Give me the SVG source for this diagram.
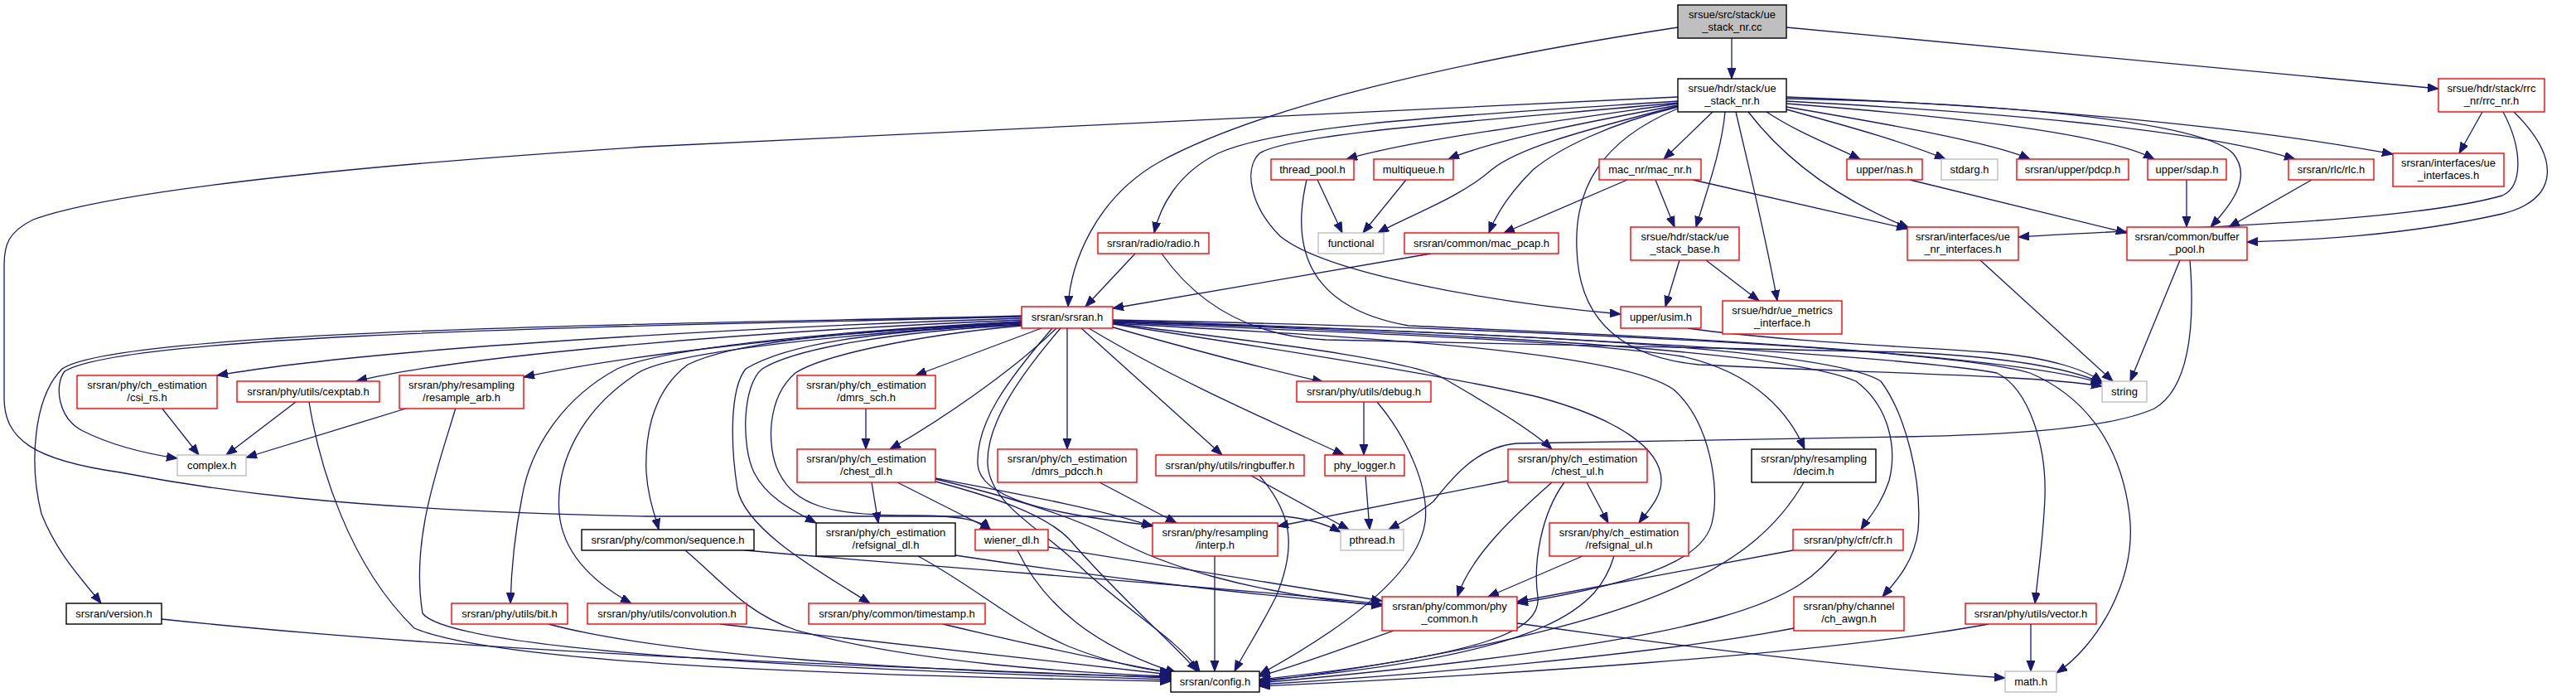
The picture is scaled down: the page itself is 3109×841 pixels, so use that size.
<svg xmlns="http://www.w3.org/2000/svg" width="3109" height="841" viewBox="0 0 3109 841">
<style>
rect{fill:#fff;stroke-width:1.4}
.r rect{stroke:#ff0000}
.g rect{stroke:#bfbfbf}
.k rect{stroke:#000}
text{font-family:"Liberation Sans",Arial,sans-serif;font-size:13px;text-anchor:middle;fill:#000}
#edges path{fill:none;stroke:#191970;stroke-width:1.3;marker-end:url(#a)}
</style>
<defs>
<marker id="a" markerUnits="userSpaceOnUse" markerWidth="14" markerHeight="11" refX="13" refY="5" orient="auto"><path d="M0,0 L13,5 L0,10 z" fill="#191970" stroke="#191970" stroke-width="1"/></marker>
</defs>
<rect x="0" y="0" width="3109" height="841" style="fill:#fff;stroke:none"/>
<g id="edges">
<path d="M2090,46 L2090,95"/>
<path d="M2156,33 L2943,107"/>
<path d="M2025,33 C1750,75 1520,130 1400,195 C1320,240 1292,320 1289,370"/>
<path d="M2025,117 L780,177 C500,195 150,225 40,265 C10,280 5,295 5,320 L5,480 C5,530 40,555 145,570 C250,590 400,615 780,623 L1550,623 C1580,626 1600,632 1618,642"/>
<path d="M2025,122 C1750,140 1550,150 1470,185 C1420,210 1400,250 1393,281"/>
<path d="M2025,125 C1850,150 1700,170 1625,192"/>
<path d="M2025,127 C1900,150 1800,170 1748,192"/>
<path d="M2025,128 C1900,160 1830,180 1800,205 C1760,240 1700,260 1663,281"/>
<path d="M2025,129 C1940,150 1880,180 1850,205 C1820,235 1805,260 1797,281"/>
<path d="M2025,124 C1800,145 1560,160 1520,185 C1500,205 1510,250 1545,285 C1600,330 1800,365 1956,379"/>
<path d="M2025,131 C1930,170 1900,230 1903,300 C1905,380 1950,430 2050,440 C2250,450 2450,452 2537,466"/>
<path d="M2156,132 C2240,155 2300,172 2348,192"/>
<path d="M2156,129 C2250,145 2400,170 2450,192"/>
<path d="M2156,125 C2350,140 2540,160 2600,192"/>
<path d="M2156,122 C2400,135 2650,155 2770,192"/>
<path d="M2156,119 C2450,125 2660,150 2695,185 C2720,215 2690,250 2668,274"/>
<path d="M2156,117 C2500,130 2750,160 2888,186"/>
<path d="M2132,135 C2170,160 2210,175 2245,192"/>
<path d="M2110,135 C2160,200 2230,245 2304,275"/>
<path d="M2095,135 C2110,200 2130,280 2145,363"/>
<path d="M2082,135 C2078,180 2060,230 2047,274"/>
<path d="M2067,135 L2008,192"/>
<path d="M2996,135 L2968,185"/>
<path d="M3021,135 C3045,180 3045,225 3020,236 C2900,270 2600,275 2436,286"/>
<path d="M3034,135 C3090,190 3090,240 3020,258 C2900,285 2780,290 2712,292"/>
<path d="M1590,217 L1620,281"/>
<path d="M1577,217 C1560,290 1570,370 1700,393 C1850,400 2000,405 2200,420 C2400,435 2500,450 2537,463"/>
<path d="M1697,217 L1645,281"/>
<path d="M1964,217 L1815,281"/>
<path d="M1998,217 L2021,274"/>
<path d="M2043,217 L2302,276"/>
<path d="M2305,217 L2567,281"/>
<path d="M2639,217 L2639,274"/>
<path d="M2790,217 L2690,274"/>
<path d="M1370,306 L1310,370"/>
<path d="M1402,306 C1440,360 1500,405 1600,410 L2300,425 C2450,432 2510,450 2537,462"/>
<path d="M1727,306 L1343,372"/>
<path d="M2027,314 L2010,370"/>
<path d="M2059,314 L2123,363"/>
<path d="M2390,314 L2550,460"/>
<path d="M2631,314 L2571,460"/>
<path d="M2643,314 C2650,400 2640,470 2600,493 C2540,520 2400,525 2300,527 L1830,535 C1780,540 1750,580 1730,605 C1712,620 1692,630 1676,639"/>
<path d="M2037,396 C2150,412 2300,418 2400,425 C2480,432 2520,448 2537,461"/>
<path d="M1233,381 C900,390 150,395 75,445 C40,480 35,560 50,620 C70,670 100,700 122,728"/>
<path d="M1233,382 C900,392 160,398 78,448 C65,465 70,505 100,520 C140,540 180,548 214,553"/>
<path d="M1233,384 C900,395 450,420 262,453"/>
<path d="M1233,386 C900,400 550,430 430,460"/>
<path d="M1233,388 C950,405 750,430 632,455"/>
<path d="M1233,388 C1000,400 800,420 745,445 C680,480 640,540 630,600 C620,650 617,690 616,728"/>
<path d="M1233,389 C1000,405 810,425 770,450 C700,495 670,560 675,620 C680,670 720,705 762,728"/>
<path d="M1233,390 C1000,400 880,415 830,440 C790,470 778,520 780,570 C782,600 790,620 795,639"/>
<path d="M1233,391 C1050,400 950,415 900,445 C880,470 882,540 890,590 C900,640 990,690 1050,728"/>
<path d="M1233,392 C1080,400 960,420 920,445 C895,465 895,540 910,570 C925,600 955,615 985,631"/>
<path d="M1233,393 C1100,405 990,430 960,450 C925,480 925,540 940,570 C960,610 1000,622 1100,622 C1160,622 1185,628 1195,639"/>
<path d="M1257,396 L1105,453"/>
<path d="M1275,396 C1220,450 1130,510 1074,542"/>
<path d="M1270,396 C1215,460 1178,510 1180,560 C1182,600 1260,620 1392,634"/>
<path d="M1280,396 C1225,460 1190,515 1192,560 C1195,610 1260,640 1300,680 C1350,730 1420,770 1448,810"/>
<path d="M1288,396 L1288,542"/>
<path d="M1305,396 L1475,549"/>
<path d="M1314,396 C1420,460 1560,520 1622,549"/>
<path d="M1340,394 C1450,425 1540,448 1597,461"/>
<path d="M1343,390 C1450,405 1700,430 1745,458 C1800,490 1850,520 1873,542"/>
<path d="M1343,391 C1500,415 1760,455 1860,480 C1950,505 2005,540 2005,580 C2005,600 1990,615 1978,631"/>
<path d="M1343,389 C1600,400 1900,410 2030,430 C2120,450 2160,500 2178,542"/>
<path d="M1343,390 C1600,405 1950,420 2020,470 C2065,510 2075,590 2067,627 C2060,670 2000,700 1831,728"/>
<path d="M1343,388 C1700,400 2150,420 2240,460 C2280,490 2290,540 2280,580 C2270,610 2255,625 2246,639"/>
<path d="M1343,388 C1700,398 2200,415 2270,460 C2300,500 2320,580 2315,640 C2310,680 2285,705 2272,720"/>
<path d="M1343,387 C1800,400 2300,430 2410,450 C2450,470 2470,540 2468,600 C2466,650 2460,690 2456,728"/>
<path d="M1343,386 C1800,395 2350,420 2450,450 C2520,480 2560,540 2570,620 C2580,700 2530,780 2482,812"/>
<path d="M195,492 L240,549"/>
<path d="M357,485 L273,549"/>
<path d="M373,485 C385,560 420,680 500,758 C600,800 1000,815 1413,822"/>
<path d="M493,492 L297,552"/>
<path d="M550,492 C530,560 495,650 510,740 C540,780 900,805 1413,820"/>
<path d="M195,747 C600,790 1100,805 1413,818"/>
<path d="M662,753 C800,790 1100,810 1413,817"/>
<path d="M869,753 L1413,814"/>
<path d="M1138,753 C1250,780 1350,800 1413,812"/>
<path d="M899,664 C1200,690 1500,710 1668,729"/>
<path d="M827,664 C870,700 900,740 960,760 C1100,800 1300,812 1413,816"/>
<path d="M1045,492 L1045,542"/>
<path d="M1052,582 L1060,631"/>
<path d="M1083,582 L1196,639"/>
<path d="M1129,577 C1250,600 1330,615 1391,635"/>
<path d="M1129,578 C1220,600 1300,625 1345,650 C1400,680 1500,715 1668,731"/>
<path d="M1129,581 C1200,600 1260,620 1290,650 C1350,720 1420,780 1445,810"/>
<path d="M1327,582 L1420,631"/>
<path d="M1510,574 L1628,639"/>
<path d="M1520,574 C1560,620 1565,660 1540,720 C1520,760 1500,790 1490,810"/>
<path d="M1646,485 L1646,549"/>
<path d="M1662,485 C1700,530 1725,590 1720,630 C1710,700 1600,770 1520,814"/>
<path d="M1648,574 L1653,639"/>
<path d="M1820,580 L1542,635"/>
<path d="M1915,582 L1941,631"/>
<path d="M1873,582 C1830,620 1775,670 1759,720"/>
<path d="M1888,582 C1860,620 1850,680 1856,720 C1860,760 1800,790 1520,820"/>
<path d="M1910,671 L1796,720"/>
<path d="M1948,671 C1930,730 1880,790 1520,821"/>
<path d="M2177,582 C2120,680 2000,760 1520,823"/>
<path d="M2164,664 L1831,726"/>
<path d="M2217,664 C2170,720 2120,770 1520,824"/>
<path d="M2165,758 C2000,790 1700,815 1520,826"/>
<path d="M2400,753 C2200,790 1800,815 1520,828"/>
<path d="M2451,753 L2451,810"/>
<path d="M1682,761 C1600,790 1560,805 1520,816"/>
<path d="M1831,752 C2100,790 2300,810 2420,818"/>
<path d="M1153,670 C1350,700 1550,722 1668,730"/>
<path d="M1108,671 C1180,710 1220,750 1290,780 C1340,800 1380,808 1413,811"/>
<path d="M1265,660 C1450,690 1600,715 1668,725"/>
<path d="M1228,664 C1260,730 1320,780 1420,812"/>
<path d="M1466,671 L1466,810"/>
</g>
<g id="n_root" class="k"><rect x="2025" y="6" width="131" height="40" style="fill:#bfbfbf"/><text x="2090.5" y="22">srsue/src/stack/ue</text><text x="2090.5" y="37">_stack_nr.cc</text></g>
<g id="n_ue_stack_nr_h" class="k"><rect x="2025" y="95" width="131" height="40"/><text x="2090.5" y="111">srsue/hdr/stack/ue</text><text x="2090.5" y="126">_stack_nr.h</text></g>
<g id="n_rrc_nr" class="r"><rect x="2943" y="95" width="128" height="40"/><text x="3007" y="111">srsue/hdr/stack/rrc</text><text x="3007" y="126">_nr/rrc_nr.h</text></g>
<g id="n_thread_pool" class="r"><rect x="1534" y="192" width="100" height="25"/><text x="1584" y="209">thread_pool.h</text></g>
<g id="n_multiqueue" class="r"><rect x="1658" y="192" width="96" height="25"/><text x="1706" y="209">multiqueue.h</text></g>
<g id="n_mac_nr" class="r"><rect x="1930" y="192" width="123" height="25"/><text x="1991.5" y="209">mac_nr/mac_nr.h</text></g>
<g id="n_nas" class="r"><rect x="2229" y="192" width="91" height="25"/><text x="2274.5" y="209">upper/nas.h</text></g>
<g id="n_stdarg" class="g"><rect x="2343" y="192" width="68" height="25"/><text x="2377" y="209">stdarg.h</text></g>
<g id="n_pdcp" class="r"><rect x="2434" y="192" width="135" height="25"/><text x="2501.5" y="209">srsran/upper/pdcp.h</text></g>
<g id="n_sdap" class="r"><rect x="2592" y="192" width="95" height="25"/><text x="2639.5" y="209">upper/sdap.h</text></g>
<g id="n_rlc" class="r"><rect x="2762" y="192" width="103" height="25"/><text x="2813.5" y="209">srsran/rlc/rlc.h</text></g>
<g id="n_ue_interfaces" class="r"><rect x="2888" y="185" width="134" height="40"/><text x="2955" y="201">srsran/interfaces/ue</text><text x="2955" y="216">_interfaces.h</text></g>
<g id="n_radio" class="r"><rect x="1325" y="281" width="134" height="25"/><text x="1392" y="298">srsran/radio/radio.h</text></g>
<g id="n_functional" class="g"><rect x="1591" y="281" width="79" height="25"/><text x="1630.5" y="298">functional</text></g>
<g id="n_mac_pcap" class="r"><rect x="1695" y="281" width="186" height="25"/><text x="1788" y="298">srsran/common/mac_pcap.h</text></g>
<g id="n_ue_stack_base" class="r"><rect x="1968" y="274" width="131" height="40"/><text x="2033.5" y="290">srsue/hdr/stack/ue</text><text x="2033.5" y="305">_stack_base.h</text></g>
<g id="n_ue_nr_interfaces" class="r"><rect x="2302" y="274" width="134" height="40"/><text x="2369" y="290">srsran/interfaces/ue</text><text x="2369" y="305">_nr_interfaces.h</text></g>
<g id="n_buffer_pool" class="r"><rect x="2567" y="274" width="145" height="40"/><text x="2639.5" y="290">srsran/common/buffer</text><text x="2639.5" y="305">_pool.h</text></g>
<g id="n_srsran" class="r"><rect x="1233" y="370" width="110" height="26"/><text x="1288" y="387">srsran/srsran.h</text></g>
<g id="n_usim" class="r"><rect x="1956" y="370" width="97" height="26"/><text x="2004.5" y="387">upper/usim.h</text></g>
<g id="n_ue_metrics" class="r"><rect x="2079" y="363" width="144" height="40"/><text x="2151" y="379">srsue/hdr/ue_metrics</text><text x="2151" y="394">_interface.h</text></g>
<g id="n_csi_rs" class="r"><rect x="93" y="453" width="169" height="40"/><text x="177.5" y="469">srsran/phy/ch_estimation</text><text x="177.5" y="484">/csi_rs.h</text></g>
<g id="n_cexptab" class="r"><rect x="286" y="460" width="172" height="25"/><text x="372" y="477">srsran/phy/utils/cexptab.h</text></g>
<g id="n_resample_arb" class="r"><rect x="482" y="453" width="150" height="40"/><text x="557" y="469">srsran/phy/resampling</text><text x="557" y="484">/resample_arb.h</text></g>
<g id="n_dmrs_sch" class="r"><rect x="962" y="453" width="167" height="40"/><text x="1045.5" y="469">srsran/phy/ch_estimation</text><text x="1045.5" y="484">/dmrs_sch.h</text></g>
<g id="n_debug" class="r"><rect x="1565" y="460" width="162" height="25"/><text x="1646" y="477">srsran/phy/utils/debug.h</text></g>
<g id="n_string" class="g"><rect x="2537" y="460" width="54" height="25"/><text x="2564" y="477">string</text></g>
<g id="n_complex" class="g"><rect x="214" y="549" width="83" height="25"/><text x="255.5" y="566">complex.h</text></g>
<g id="n_chest_dl" class="r"><rect x="962" y="542" width="167" height="40"/><text x="1045.5" y="558">srsran/phy/ch_estimation</text><text x="1045.5" y="573">/chest_dl.h</text></g>
<g id="n_dmrs_pdcch" class="r"><rect x="1204" y="542" width="168" height="40"/><text x="1288" y="558">srsran/phy/ch_estimation</text><text x="1288" y="573">/dmrs_pdcch.h</text></g>
<g id="n_ringbuffer" class="r"><rect x="1395" y="549" width="179" height="25"/><text x="1484.5" y="566">srsran/phy/utils/ringbuffer.h</text></g>
<g id="n_phy_logger" class="r"><rect x="1599" y="549" width="96" height="25"/><text x="1647" y="566">phy_logger.h</text></g>
<g id="n_chest_ul" class="r"><rect x="1820" y="542" width="168" height="40"/><text x="1904" y="558">srsran/phy/ch_estimation</text><text x="1904" y="573">/chest_ul.h</text></g>
<g id="n_decim" class="k"><rect x="2114" y="542" width="150" height="40"/><text x="2189" y="558">srsran/phy/resampling</text><text x="2189" y="573">/decim.h</text></g>
<g id="n_sequence" class="k"><rect x="702" y="639" width="208" height="25"/><text x="806" y="656">srsran/phy/common/sequence.h</text></g>
<g id="n_refsignal_dl" class="k"><rect x="985" y="631" width="168" height="40"/><text x="1069" y="647">srsran/phy/ch_estimation</text><text x="1069" y="662">/refsignal_dl.h</text></g>
<g id="n_wiener_dl" class="r"><rect x="1177" y="639" width="88" height="25"/><text x="1221" y="656">wiener_dl.h</text></g>
<g id="n_interp" class="r"><rect x="1391" y="631" width="151" height="40"/><text x="1466.5" y="647">srsran/phy/resampling</text><text x="1466.5" y="662">/interp.h</text></g>
<g id="n_pthread" class="g"><rect x="1618" y="639" width="76" height="25"/><text x="1656" y="656">pthread.h</text></g>
<g id="n_refsignal_ul" class="r"><rect x="1870" y="631" width="168" height="40"/><text x="1954" y="647">srsran/phy/ch_estimation</text><text x="1954" y="662">/refsignal_ul.h</text></g>
<g id="n_cfr" class="r"><rect x="2164" y="639" width="133" height="25"/><text x="2230.5" y="656">srsran/phy/cfr/cfr.h</text></g>
<g id="n_version" class="k"><rect x="80" y="728" width="115" height="25"/><text x="137.5" y="745">srsran/version.h</text></g>
<g id="n_bit" class="r"><rect x="545" y="728" width="140" height="25"/><text x="615" y="745">srsran/phy/utils/bit.h</text></g>
<g id="n_convolution" class="r"><rect x="709" y="728" width="192" height="25"/><text x="805" y="745">srsran/phy/utils/convolution.h</text></g>
<g id="n_timestamp" class="r"><rect x="976" y="728" width="213" height="25"/><text x="1082.5" y="745">srsran/phy/common/timestamp.h</text></g>
<g id="n_phy_common" class="r"><rect x="1668" y="720" width="163" height="41"/><text x="1749.5" y="736">srsran/phy/common/phy</text><text x="1749.5" y="751">_common.h</text></g>
<g id="n_ch_awgn" class="r"><rect x="2165" y="720" width="133" height="41"/><text x="2231.5" y="736">srsran/phy/channel</text><text x="2231.5" y="751">/ch_awgn.h</text></g>
<g id="n_vector" class="r"><rect x="2372" y="728" width="158" height="25"/><text x="2451" y="745">srsran/phy/utils/vector.h</text></g>
<g id="n_config" class="k"><rect x="1413" y="810" width="107" height="25"/><text x="1466.5" y="827">srsran/config.h</text></g>
<g id="n_math" class="g"><rect x="2420" y="810" width="62" height="25"/><text x="2451" y="827">math.h</text></g>
</svg>
